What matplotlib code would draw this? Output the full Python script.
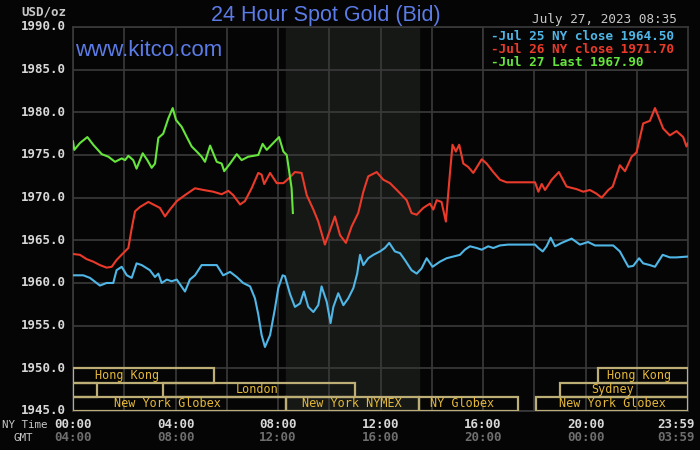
from matplotlib import pyplot as plt
from matplotlib.patches import Rectangle

# Spot gold, 24 hours, price by NY time (hours)

jul25_hours = [0, 0.4, 0.66, 1.05, 1.31, 1.57, 1.7, 1.9, 2.1, 2.29, 2.48, 2.68, 3.0, 3.2, 3.33, 3.46, 3.66,
               3.85, 4.05, 4.37, 4.56, 4.76, 5.02, 5.35, 5.61, 5.86, 6.13, 6.39, 6.64, 6.91, 7.1, 7.23, 7.36,
               7.49, 7.69, 7.88, 8.01, 8.18, 8.27, 8.47, 8.66, 8.86, 9.01, 9.18, 9.38, 9.57, 9.7, 9.9, 10.05,
               10.16, 10.35, 10.55, 10.74, 10.94, 11.09, 11.2, 11.33, 11.52, 11.72, 11.98, 12.17, 12.34,
               12.56, 12.76, 12.95, 13.21, 13.41, 13.6, 13.8, 14.03, 14.32, 14.58, 14.84, 15.1, 15.29, 15.49,
               15.75, 15.95, 16.2, 16.4, 16.66, 16.98, 18.03, 18.16, 18.33, 18.48, 18.64, 18.81, 19.07,
               19.46, 19.78, 20.1, 20.37, 20.69, 21.08, 21.34, 21.67, 21.86, 22.09, 22.25, 22.51, 22.71,
               23.01, 23.29, 23.55, 24.0]
jul25_price = [1960.9, 1960.9, 1960.6, 1959.7, 1960.0, 1960.0, 1961.5, 1961.9, 1960.9, 1960.6, 1962.3,
               1962.1, 1961.5, 1960.7, 1961.1, 1960.0, 1960.4, 1960.2, 1960.4, 1959.0, 1960.4, 1960.9,
               1962.1, 1962.1, 1962.1, 1960.9, 1961.3, 1960.7, 1960.0, 1959.6, 1958.2, 1956.3, 1953.9,
               1952.5, 1953.9, 1957.0, 1959.4, 1960.9, 1960.8, 1958.7, 1957.2, 1957.6, 1959.0, 1957.2,
               1956.6, 1957.4, 1959.6, 1957.8, 1955.3, 1957.2, 1958.8, 1957.4, 1958.2, 1959.4, 1961.1,
               1963.3, 1962.1, 1962.9, 1963.3, 1963.7, 1964.1, 1964.7, 1963.7, 1963.5, 1962.7, 1961.5,
               1961.1, 1961.7, 1962.9, 1961.9, 1962.5, 1962.9, 1963.1, 1963.3, 1963.9, 1964.3, 1964.1,
               1963.9, 1964.3, 1964.1, 1964.4, 1964.5, 1964.5, 1964.1, 1963.7, 1964.3, 1965.3, 1964.3,
               1964.7, 1965.2, 1964.5, 1964.8, 1964.4, 1964.4, 1964.4, 1963.7, 1961.9, 1962.0, 1962.9,
               1962.3, 1962.1, 1961.9, 1963.3, 1963.0, 1963.0, 1963.1]

jul26_hours = [0, 0.27, 0.53, 0.79, 1.05, 1.31, 1.51, 1.7, 1.96, 2.16, 2.29, 2.42, 2.61, 2.94, 3.2, 3.39,
               3.59, 3.78, 4.05, 4.37, 4.76, 5.09, 5.47, 5.8, 6.06, 6.25, 6.52, 6.71, 6.97, 7.23, 7.36, 7.46,
               7.69, 7.95, 8.21, 8.47, 8.66, 8.92, 9.12, 9.38, 9.57, 9.83, 10.03, 10.22, 10.42, 10.65, 10.87,
               11.13, 11.33, 11.52, 11.85, 12.11, 12.37, 12.7, 13.02, 13.21, 13.41, 13.67, 13.93, 14.06,
               14.19, 14.38, 14.55, 14.71, 14.81, 14.94, 15.07, 15.23, 15.42, 15.62, 15.95, 16.14, 16.4,
               16.66, 16.92, 18.03, 18.16, 18.29, 18.42, 18.68, 18.96, 19.26, 19.65, 19.91, 20.17, 20.41,
               20.63, 20.89, 21.06, 21.34, 21.54, 21.8, 21.99, 22.25, 22.51, 22.71, 23.03, 23.29, 23.55,
               23.81, 23.94, 24.0]
jul26_price = [1963.4, 1963.3, 1962.8, 1962.5, 1962.1, 1961.8, 1961.9, 1962.7, 1963.5, 1964.1, 1966.4,
               1968.4, 1968.9, 1969.5, 1969.1, 1968.8, 1967.8, 1968.6, 1969.6, 1970.3, 1971.1, 1970.9,
               1970.7, 1970.4, 1970.8, 1970.3, 1969.2, 1969.6, 1971.1, 1972.9, 1972.7, 1971.6, 1972.9,
               1971.7, 1971.7, 1972.4, 1973.0, 1972.9, 1970.3, 1968.6, 1967.2, 1964.5, 1966.2, 1967.8,
               1965.6, 1964.7, 1966.6, 1968.2, 1970.7, 1972.5, 1973.0, 1972.1, 1971.7, 1970.7, 1969.7,
               1968.2, 1968.0, 1968.8, 1969.3, 1968.6, 1969.7, 1969.5, 1967.2, 1972.9, 1976.2, 1975.4,
               1976.2, 1974.0, 1973.6, 1972.9, 1974.5, 1974.0, 1973.0, 1972.1, 1971.8, 1971.8, 1970.7,
               1971.6, 1970.9, 1972.1, 1973.0, 1971.3, 1971.0, 1970.7, 1970.9, 1970.5, 1970.0, 1970.9,
               1971.3, 1973.8, 1973.1, 1974.8, 1975.3, 1978.7, 1979.0, 1980.5, 1978.1, 1977.3, 1977.8,
               1977.1, 1976.0, 1976.4]

jul27_hours = [0, 0.05, 0.27, 0.56, 0.79, 1.12, 1.38, 1.64, 1.9, 2.03, 2.16, 2.35, 2.48, 2.72, 2.9, 3.07,
               3.2, 3.33, 3.52, 3.72, 3.89, 4.02, 4.24, 4.44, 4.63, 4.83, 5.02, 5.15, 5.35, 5.5, 5.61, 5.8,
               5.9, 6.13, 6.39, 6.58, 6.84, 7.04, 7.23, 7.4, 7.56, 7.75, 8.04, 8.21, 8.34, 8.44, 8.53, 8.58]
jul27_price = [1976.6, 1975.6, 1976.4, 1977.1, 1976.2, 1975.1, 1974.8, 1974.2, 1974.6, 1974.4, 1974.9,
               1974.4, 1973.4, 1975.2, 1974.4, 1973.5, 1974.0, 1977.0, 1977.5, 1979.3, 1980.5, 1979.1,
               1978.3, 1977.1, 1976.0, 1975.4, 1974.8, 1974.2, 1976.1, 1975.0, 1974.2, 1974.0, 1973.1,
               1974.0, 1975.1, 1974.4, 1974.8, 1974.9, 1975.0, 1976.3, 1975.6, 1976.2, 1977.1, 1975.4,
               1975.0, 1973.0, 1971.1, 1968.2]

legend_labels = ['-Jul 25 NY close 1964.50', '-Jul 26 NY close 1971.70', '-Jul 27 Last 1967.90']

# market sessions: (row, start hour, end hour, label)
sessions = [(0, 0, 5.5, 'Hong Kong'), (0, 20.5, 24, 'Hong Kong'),
            (1, 0, 0.95, ''), (1, 3.5, 11.0, 'London'), (1, 19.0, 24, 'Sydney'),
            (2, 0, 8.33, 'New York Globex'), (2, 8.33, 13.5, 'New York NYMEX'),
            (2, 13.5, 17.35, 'NY Globex'), (2, 18.05, 24, 'New York Globex')]
session_label_x = [2.1, 22.1, 0, 7.2, 21.05, 3.7, 10.9, 15.2, 21.05]

ny_ticks = ['00:00', '04:00', '08:00', '12:00', '16:00', '20:00', '23:59']
gmt_ticks = ['04:00', '08:00', '12:00', '16:00', '20:00', '00:00', '03:59']
tick_hours = [0, 4, 8, 12, 16, 20, 23.55]

blue = '#4fb6e6'
red = '#ea3a2a'
green = '#66e63c'
gridc = '#3a3a3a'
mono = 'DejaVu Sans Mono'

fig = plt.figure(figsize=(7, 4.5), dpi=100, facecolor='#050505')
ax = fig.add_axes([0.1043, 0.0867, 0.8786, 0.8533])
ax.set_facecolor('#050505')
ax.set_xlim(0, 24)
ax.set_ylim(1945, 1990)

# NYMEX pit hours shading
ax.axvspan(8.33, 13.5, color='#161816', zorder=0)

ax.set_xticks(range(0, 25, 2))
ax.set_yticks(range(1945, 1991, 5))
ax.grid(True, color=gridc, linewidth=1.2, zorder=1)
ax.tick_params(length=0, labelbottom=False, labelleft=False)
for s in ax.spines.values():
    s.set_color(gridc)
    s.set_linewidth(1.2)

for p in range(1945, 1991, 5):
    ax.text(-0.012, p, '%.1f' % p, transform=ax.get_yaxis_transform(), ha='right', va='center',
            color='#d8d8d8', fontsize=9, family=mono, fontweight='bold')

ax.plot(jul25_hours, jul25_price, color=blue, linewidth=1.5, zorder=3)
ax.plot(jul26_hours, jul26_price, color=red, linewidth=1.5, zorder=3)
ax.plot(jul27_hours, jul27_price, color=green, linewidth=1.5, zorder=4)

# session boxes along the bottom
row_h = 5 / 3
for (row, start, end, label), lx in zip(sessions, session_label_x):
    y0 = 1950 - (row + 1) * row_h
    ax.add_patch(Rectangle((start, y0), end - start, row_h, fill=False, edgecolor='#bcae74',
                           linewidth=1.6, zorder=5))
    if label:
        ax.text(lx, y0 + row_h / 2, label, ha='center', va='center', color='#e4b83a',
                fontsize=8.5, family=mono, zorder=6)

# legend box top right
ax.add_patch(Rectangle((16, 1985), 8, 5, facecolor='#050505', edgecolor=gridc, linewidth=1.2, zorder=5))
for i, (lab, c) in enumerate(zip(legend_labels, [blue, red, green])):
    ax.text(16.3, 1988.9 - i * 1.55, lab, ha='left', va='center', color=c, fontsize=9.2,
            family=mono, fontweight='bold', zorder=6)

# x labels, NY time and GMT
for h, ny, gmt in zip(tick_hours, ny_ticks, gmt_ticks):
    ax.text(h, -0.034, ny, transform=ax.get_xaxis_transform(), ha='center', va='center',
            color='#d8d8d8', fontsize=9, family=mono, fontweight='bold')
    ax.text(h, -0.07, gmt, transform=ax.get_xaxis_transform(), ha='center', va='center',
            color='#6e6e6e', fontsize=9, family=mono, fontweight='bold')
fig.text(0.003, 1 - 425 / 450, 'NY Time', ha='left', va='center', color='#c8c8c8', fontsize=7.8, family=mono)
fig.text(0.019, 1 - 438 / 450, 'GMT', ha='left', va='center', color='#c8c8c8', fontsize=7.8, family=mono)

fig.text(326 / 700, 1 - 15 / 450, '24 Hour Spot Gold (Bid)', ha='center', va='center', color='#5b7be6',
         fontsize=15.5, family='Liberation Sans')
ax.text(0.003, 1 - 24 / 384, 'www.kitco.com', transform=ax.transAxes, ha='left', va='center',
        color='#5b7be6', fontsize=16, family='Liberation Sans', zorder=6)
fig.text(0.03, 1 - 12 / 450, 'USD/oz', ha='left', va='center', color='#c8c8c8', fontsize=9,
         family=mono, fontweight='bold')
fig.text(0.967, 1 - 19 / 450, 'July 27, 2023 08:35', ha='right', va='center', color='#c8c8c8',
         fontsize=9.2, family=mono)

plt.savefig('out.png', dpi=100, facecolor=fig.get_facecolor())
